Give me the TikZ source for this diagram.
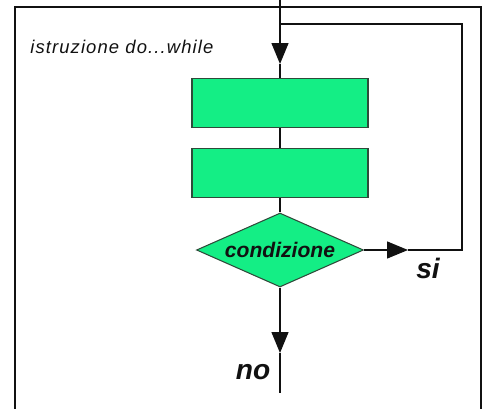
\documentclass[tikz,border=0pt]{standalone}
\usepackage{fontspec}
\setmainfont{Liberation Sans}
\setsansfont{Liberation Sans}
\usetikzlibrary{arrows.meta,shapes.geometric,positioning}
\definecolor{ink}{HTML}{111111}
\definecolor{boxgreen}{HTML}{14EE85}
\definecolor{boxedge}{HTML}{2F4A3A}

\begin{document}
\begin{tikzpicture}[
  x=0.02cm,y=-0.02cm,
  font=\sffamily,
  frame/.style={draw=ink,line width=1.4pt},
  flow/.style={draw=ink,line width=0.8pt},
  flowarrow/.style={flow,-{Triangle[length=0.42cm,width=0.34cm]}},
  block/.style={rectangle,draw=boxedge,fill=boxgreen,line width=0.6pt,
                minimum width=3.52cm,minimum height=0.98cm,inner sep=0pt},
  test/.style={diamond,aspect=2.26,draw=boxedge,fill=boxgreen,line width=0.6pt,
               minimum width=3.34cm,minimum height=1.48cm,inner sep=0pt,
               font=\sffamily\fontsize{12}{14}\selectfont\bfseries\itshape,text=ink},
  answer/.style={font=\sffamily\fontsize{16}{18}\selectfont\bfseries\itshape,text=ink},
  caption/.style={font=\sffamily\fontsize{10.5}{13}\selectfont\itshape
                  \addfontfeatures{LetterSpace=6},text=ink}
]
\useasboundingbox (0,0) rectangle (487,409);

% Outer frame, open at the bottom.
\draw[frame] (15,409) -- (15,7) -- (481,7) -- (481,409);

\node[caption,anchor=west,inner sep=0pt] (title) at (30,47) {istruzione do...while};

% Loop body and test.
\coordinate (entry) at (280,0);
\coordinate (loopin) at (280,24);
\coordinate (tipin) at (280,64);
\node[block] (body1) at (280,103) {};
\node[block] (body2) at (280,173) {};
\node[test] (cond) at (280,250) {condizione};

\draw[flow] (entry) -- (loopin);
\draw[flowarrow] (loopin) -- (tipin);
\draw[flow] (tipin) -- (body1.north);
\draw[flow] (body1) -- (body2);
\draw[flow] (body2) -- (cond);

% True branch goes back to the top.
\coordinate (tipsi) at (408,250);
\coordinate (backlow) at (462,250);
\coordinate (backhigh) at (462,24);
\draw[flowarrow] (cond.east) -- (tipsi);
\draw[flow] (tipsi) -- (backlow) -- (backhigh) -- (loopin);
\node[answer] (si) at (428,268) {si};

% False branch leaves the loop.
\coordinate (tipno) at (280,353);
\coordinate (exit) at (280,393);
\draw[flowarrow] (cond.south) -- (tipno);
\draw[flow] (tipno) -- (exit);
\node[answer] (no) at (253,372) {no};

\end{tikzpicture}
\end{document}
